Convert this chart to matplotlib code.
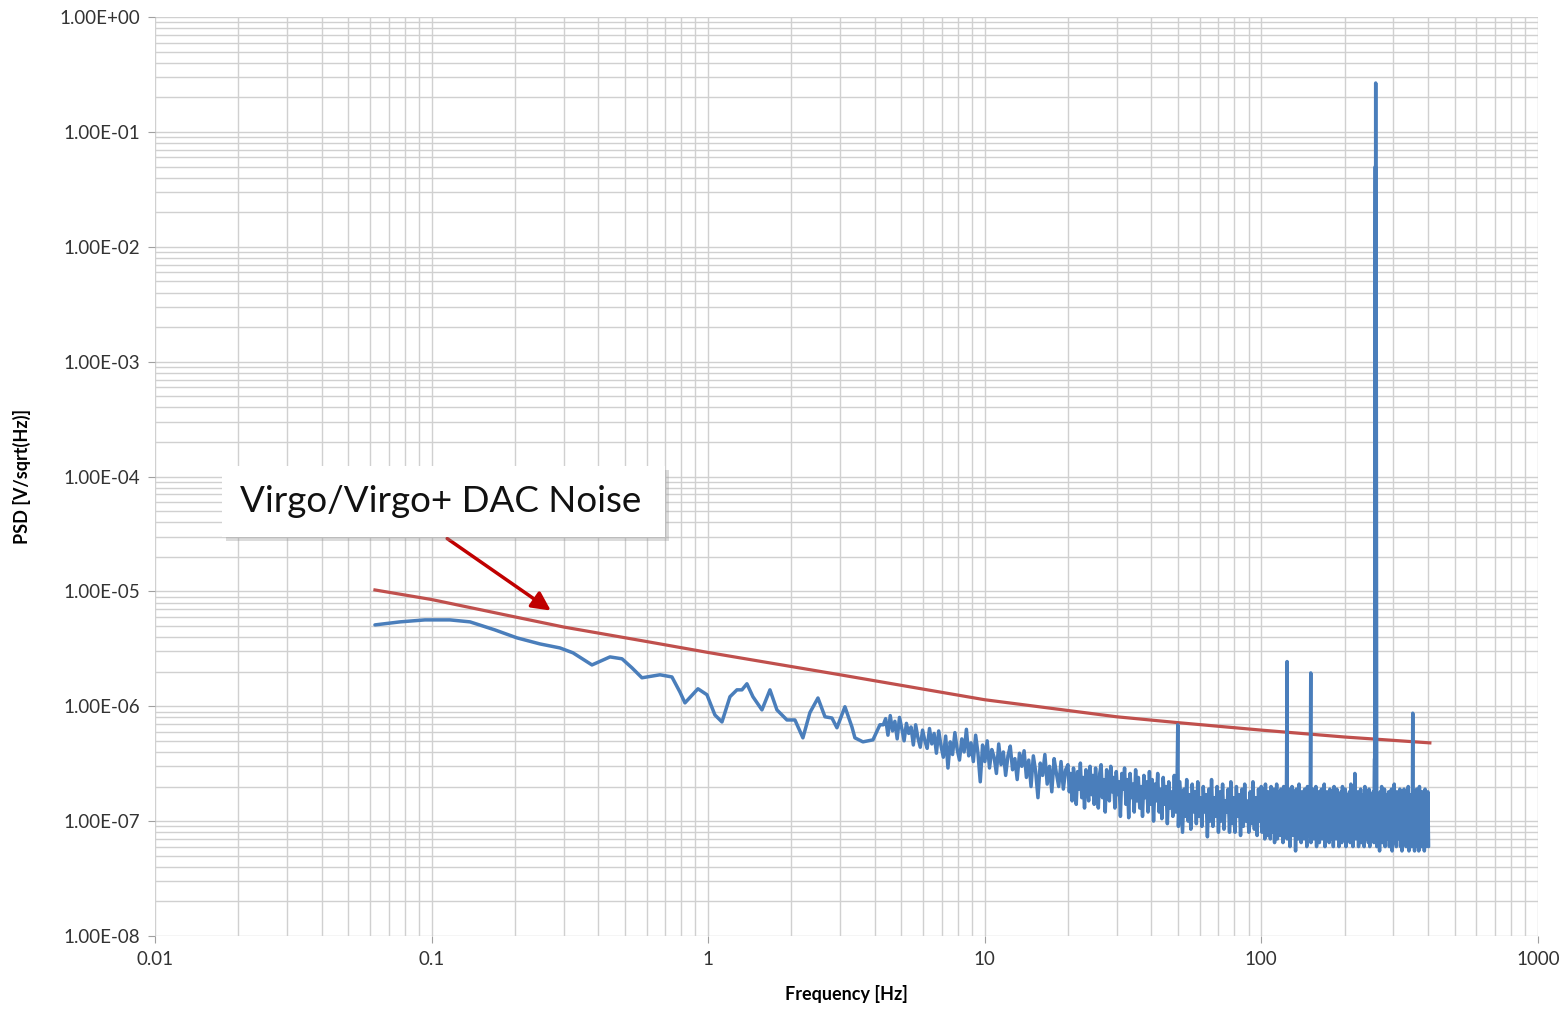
import numpy as np
import matplotlib.pyplot as plt
from matplotlib.ticker import FuncFormatter, LogLocator, NullFormatter
from matplotlib.patches import Rectangle

# ---- data ----
# Virgo/Virgo+ DAC noise model (red curve)
dac_freq = [0.0624, 0.1, 0.2, 0.3, 0.6, 1.0, 3.0, 10.0, 30.0, 50.0, 100.0, 200.0, 407.0]
dac_psd = [1.03e-5, 8.5e-6, 6.0e-6, 4.9e-6, 3.66e-6, 2.94e-6, 1.88e-6, 1.14e-6,
           8.1e-7, 7.2e-7, 6.2e-7, 5.4e-7, 4.8e-7]

# measured spectrum, smooth low-frequency part (blue curve)
low_freq = [0.0624, 0.0769, 0.0946, 0.1165, 0.1377, 0.1695, 0.2036, 0.2465, 0.2912, 0.3245,
            0.3801, 0.4416, 0.4881, 0.5304, 0.5763, 0.6696, 0.7397, 0.7907, 0.8244, 0.9186,
            0.990, 1.058, 1.122, 1.199, 1.271, 1.325, 1.381, 1.452, 1.565, 1.673,
            1.773, 1.927, 2.060, 2.201, 2.333, 2.495, 2.645, 2.803, 2.922, 3.123,
            3.311, 3.394, 3.628, 3.944, 4.180]
low_psd = [5.11e-6, 5.43e-6, 5.65e-6, 5.65e-6, 5.43e-6, 4.62e-6, 3.94e-6, 3.49e-6, 3.22e-6, 2.92e-6,
           2.29e-6, 2.69e-6, 2.59e-6, 2.16e-6, 1.77e-6, 1.88e-6, 1.80e-6, 1.33e-6, 1.07e-6, 1.42e-6,
           1.26e-6, 8.4e-7, 7.3e-7, 1.21e-6, 1.39e-6, 1.39e-6, 1.57e-6, 1.21e-6, 9.3e-7, 1.39e-6,
           9.3e-7, 7.6e-7, 7.6e-7, 5.31e-7, 8.8e-7, 1.18e-6, 8.1e-7, 7.9e-7, 6.5e-7, 9.9e-7,
           6.6e-7, 5.31e-7, 4.9e-7, 5.1e-7, 6.9e-7]

# noisy part in units of 1e-7, three frequency bands
noise_a = [6.9, 7.8, 5.6, 8.3, 6.1, 7.4, 5.2, 8.0, 6.4, 5.0, 7.1, 5.8, 6.6, 4.6, 6.9, 5.3, 4.4, 6.2, 5.0, 4.3,
           6.4, 4.7, 5.8, 3.9, 6.1, 4.5, 3.6, 5.5, 2.9, 4.9, 3.8, 5.9, 4.2, 3.4, 5.2, 4.0, 6.3, 3.7, 4.8, 3.3,
           5.6, 3.9, 2.2, 4.6, 3.3, 5.0, 2.9, 4.2, 3.6, 2.6, 4.7, 3.1, 4.0, 2.5, 3.7, 4.5, 2.8, 3.5, 2.3, 3.9,
           3.0, 4.1, 2.4, 3.4, 2.0, 3.7, 2.7, 1.6, 3.2, 2.5, 3.8, 2.1, 3.0, 1.8, 3.5, 2.6, 2.0, 3.3, 1.9, 2.8]
noise_b = [3.1, 1.8, 2.6, 1.5, 2.9, 2.2, 1.4, 2.7, 1.9, 3.2, 1.6, 2.4, 1.3, 2.8, 2.0, 1.5, 3.0, 1.7, 2.5, 1.4,
           2.9, 1.9, 1.3, 2.6, 3.1, 1.6, 2.3, 1.2, 2.8, 2.0, 1.5, 3.0, 1.8, 2.4, 1.3, 2.7, 1.7, 2.2, 1.1, 2.6,
           1.9, 2.9, 1.4, 2.3, 1.07, 2.6, 1.6, 2.1, 1.2, 2.8, 1.5, 2.4, 1.3, 2.0, 1.1, 2.5, 1.6, 2.2, 1.2, 2.7,
           1.4, 2.3, 1.0, 2.1, 1.5, 2.6, 1.2, 1.9, 1.05, 2.4, 1.4, 2.0, 0.95, 2.2, 1.3, 1.8, 1.1, 2.5, 1.2, 2.0,
           0.9, 2.2, 1.3, 0.8, 1.9, 1.1, 2.3, 1.0, 1.7, 0.85, 2.1, 1.2, 1.8, 0.95, 2.2, 1.1, 1.6, 0.9, 2.0, 1.2,
           1.7, 0.73, 1.9, 1.0, 2.3, 0.9, 1.6, 1.1, 2.0, 0.8, 1.8, 1.0, 2.1, 0.85, 1.5, 1.2, 1.9, 0.8, 2.2, 0.95,
           1.6, 0.8, 2.0, 1.1, 1.7, 0.75, 1.9, 0.9, 2.1, 1.0, 1.5, 0.8, 1.8, 0.95, 2.2, 0.85, 1.6, 0.75, 1.9, 1.0]
noise_c = [2.0, 0.8, 1.7, 0.95, 1.9, 0.7, 2.1, 0.85, 1.6, 0.75, 1.8, 1.0, 1.5, 0.7, 2.0, 0.8, 1.7, 0.9, 1.9, 0.65,
           1.6, 0.8, 2.1, 0.7, 1.8, 0.95, 1.5, 0.75, 1.9, 0.85, 1.7, 0.65, 2.0, 0.8, 1.6, 0.9, 1.8, 0.7, 1.5, 0.85,
           1.9, 0.6, 1.7, 0.8, 2.0, 0.75, 1.6, 0.9, 1.8, 0.55, 1.9, 0.8, 1.5, 0.7, 2.1, 0.85, 1.7, 0.65, 1.8, 0.75,
           1.6, 0.7, 1.9, 0.85, 1.5, 0.6, 2.0, 0.75, 1.7, 0.9, 1.8, 0.65, 1.6, 0.8, 1.9, 0.7, 1.5, 0.85, 2.0, 0.6,
           1.7, 0.75, 1.8, 0.65, 1.6, 0.9, 1.9, 0.7, 1.5, 0.8, 2.1, 0.6, 1.7, 0.75, 1.8, 0.85, 1.6, 0.65, 1.9, 0.7,
           1.5, 0.8, 1.8, 0.6, 2.0, 0.75, 1.6, 0.7, 1.9, 0.85, 1.7, 0.6, 1.5, 0.8, 1.8, 0.65, 2.0, 0.75, 1.6, 0.7,
           1.9, 0.6, 1.7, 0.8, 1.5, 0.7, 1.8, 0.65, 2.1, 0.75, 1.6, 0.6, 1.9, 0.8, 1.7, 0.7, 1.5, 0.85, 1.8, 0.6,
           1.6, 0.75, 1.9, 0.65, 1.7, 0.8, 1.5, 0.6, 2.0, 0.7, 1.8, 0.75, 1.6, 0.65, 1.9, 0.6, 1.7, 0.8, 1.5, 0.7,
           1.8, 0.65, 1.6, 0.75, 1.9, 0.6, 1.7, 0.8, 1.5, 0.55, 1.8, 0.7, 2.0, 0.65, 1.6, 0.75, 1.9, 0.6, 1.7, 0.7,
           1.5, 0.8, 1.8, 0.6, 1.7, 0.7, 1.9, 0.55, 1.6, 0.75, 2.1, 0.65, 1.7, 0.6, 1.8, 0.7, 1.5, 0.8, 1.9, 0.6,
           1.7, 0.55, 1.6, 0.7, 1.9, 0.65, 1.8, 0.6, 1.5, 0.75, 2.0, 0.55, 1.7, 0.7, 1.6, 0.6, 1.9, 0.65, 1.8, 0.55,
           1.6, 0.7, 1.9, 0.6, 1.7, 0.55, 2.0, 0.65, 1.5, 0.6, 1.8, 0.7, 1.6, 0.55, 1.9, 0.6, 1.7, 0.65, 1.8, 0.6]
band_edges = [4.3, 20.0, 100.0, 405.0]

# spectral lines (Hz, V/sqrt(Hz))
line_freq = [49.9, 124.0, 151.0, 218.0, 257.0, 258.5, 259.3, 260.2, 261.5, 353.0]
line_psd = [6.9e-7, 2.45e-6, 1.95e-6, 2.6e-7, 3.5e-7, 0.05, 0.267, 0.03, 3.0e-7, 8.7e-7]


# ---- build measured series ----
def band(vals, f0, f1):
    return np.geomspace(f0, f1, len(vals), endpoint=False), np.array(vals) * 1e-7

fa, va = band(noise_a, band_edges[0], band_edges[1])
fb, vb = band(noise_b, band_edges[1], band_edges[2])
fc, vc = band(noise_c, band_edges[2], band_edges[3])
meas_f = np.concatenate([low_freq, fa, fb, fc, line_freq])
meas_v = np.concatenate([low_psd, va, vb, vc, line_psd])
order = np.argsort(meas_f)
meas_f, meas_v = meas_f[order], meas_v[order]

plt.rcParams['font.family'] = ['Lato', 'DejaVu Sans']

fig = plt.figure(figsize=(15.66, 10.10), dpi=100)
ax = fig.add_axes([0.099, 0.0733, 0.883, 0.9097])

ax.plot(dac_freq, dac_psd, color='#C0504D', lw=2.3, zorder=3)
ax.plot(meas_f, meas_v, color='#4A7EBB', lw=2.5, zorder=4,
        solid_joinstyle='round', solid_capstyle='round')

ax.set_xscale('log')
ax.set_yscale('log')
ax.set_xlim(0.01, 1000)
ax.set_ylim(1e-8, 1)

ax.xaxis.set_major_locator(LogLocator(base=10, numticks=20))
ax.yaxis.set_major_locator(LogLocator(base=10, numticks=20))
ax.xaxis.set_minor_locator(LogLocator(base=10, subs=np.arange(2, 10), numticks=20))
ax.yaxis.set_minor_locator(LogLocator(base=10, subs=np.arange(2, 10), numticks=20))
ax.xaxis.set_minor_formatter(NullFormatter())
ax.yaxis.set_minor_formatter(NullFormatter())
ax.xaxis.set_major_formatter(FuncFormatter(lambda v, p: '{:g}'.format(v)))
ax.yaxis.set_major_formatter(FuncFormatter(lambda v, p: '{:.2E}'.format(v)))

ax.grid(which='both', color='#d0d0d0', lw=1.0)
ax.set_axisbelow(True)
for s in ax.spines.values():
    s.set_visible(False)
ax.tick_params(which='major', length=5, color='#a0a0a0', labelsize=13.5,
               labelcolor='#333333', pad=6)
ax.tick_params(which='minor', length=0)

ax.set_xlabel('Frequency [Hz]', fontsize=13, fontweight='bold', labelpad=12)
ax.set_ylabel('PSD [V/sqrt(Hz)]', fontsize=13, fontweight='bold', labelpad=20)

# annotation box with shadow
fig.patches.append(Rectangle((0.1445, 0.4643), 0.2829, 0.0703, transform=fig.transFigure,
                             facecolor='#999999', alpha=0.35, edgecolor='none', zorder=5))
fig.patches.append(Rectangle((0.1418, 0.4683), 0.2829, 0.0703, transform=fig.transFigure,
                             facecolor='white', edgecolor='none', zorder=6))
fig.text(0.1533, 0.5035, 'Virgo/Virgo+ DAC Noise', fontsize=26.5, color='#111111',
         va='center', ha='left', zorder=7)

ax.annotate('', xy=(0.275, 6.6e-6), xytext=(0.1117, 2.98e-5),
            arrowprops=dict(arrowstyle='-|>', color='#C00000', lw=2.5, mutation_scale=28),
            zorder=6)

fig.savefig('out.png', dpi=100)
